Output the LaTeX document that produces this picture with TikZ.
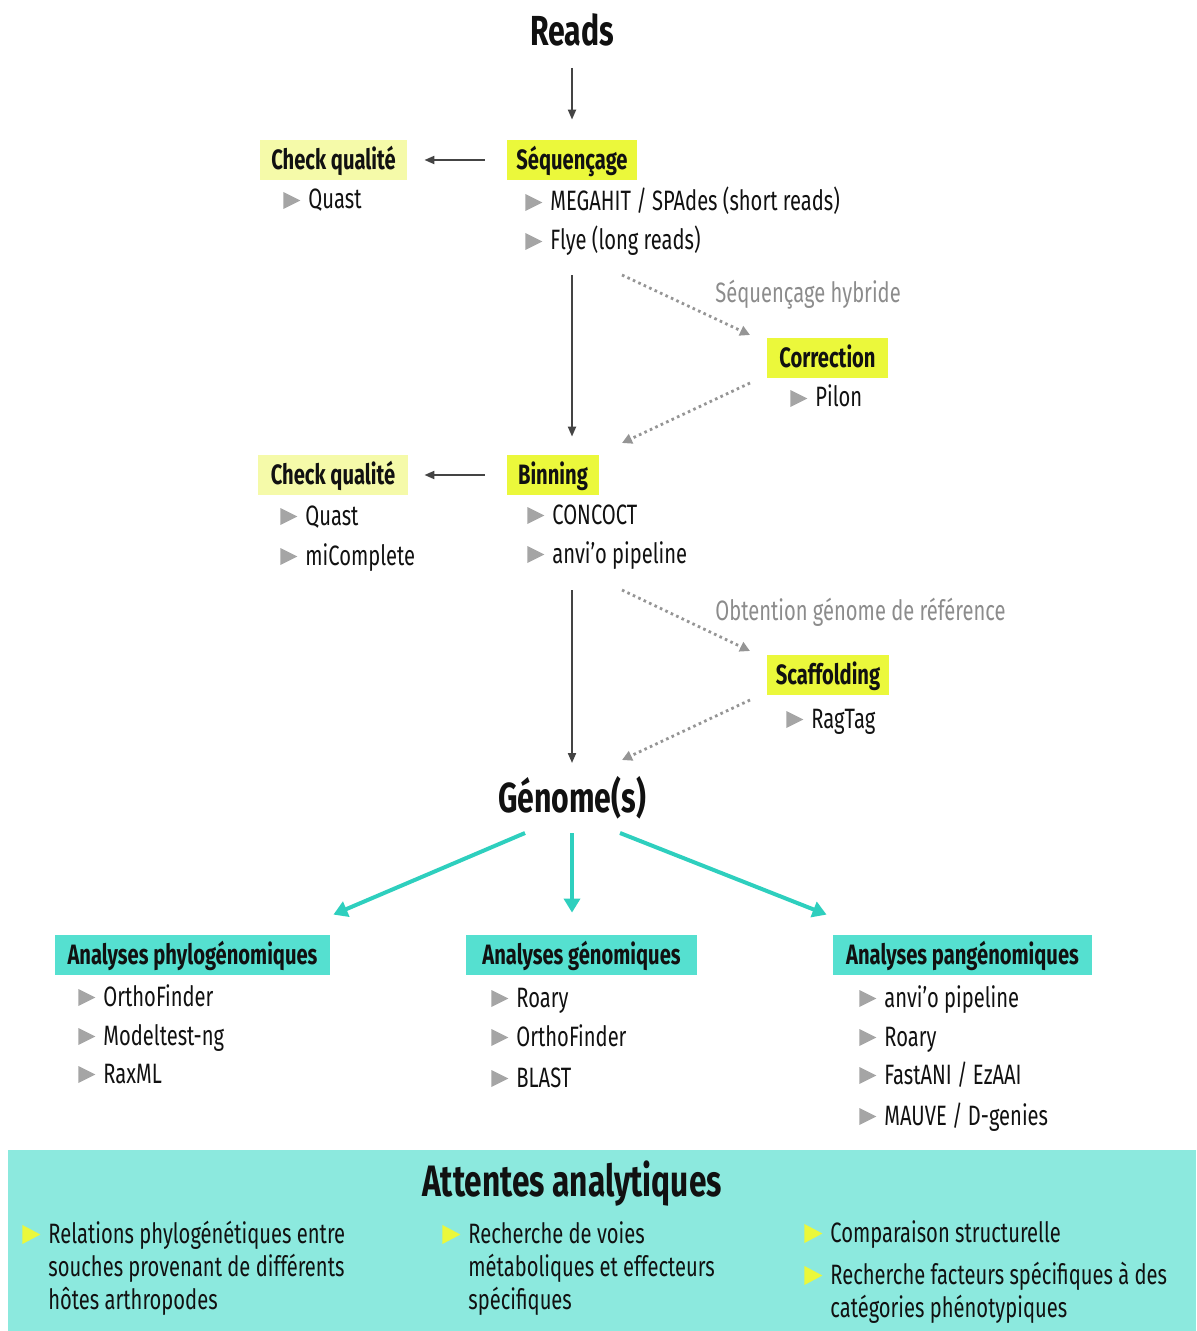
\documentclass[tikz,border=0pt]{standalone}
\usepackage{fontspec}
\setmainfont{Fira Sans}[FakeStretch=0.72]
\usetikzlibrary{arrows.meta, positioning}
\definecolor{YelBright}{HTML}{EBF83B}
\definecolor{YelPale}{HTML}{F5FAA9}
\definecolor{TealArr}{HTML}{2ECFBE}
\definecolor{TealBox}{HTML}{55E0D0}
\definecolor{TealPanel}{HTML}{8CE9DE}
\definecolor{TriGray}{HTML}{A5A5A5}
\definecolor{ArrGray}{HTML}{444444}
\definecolor{DotGray}{HTML}{959595}
\definecolor{LabelGray}{HTML}{8C8C8C}
\definecolor{Ink}{HTML}{111111}

% small bullet triangles
\newcommand\tri{\llap{\tikz[baseline=0pt]\fill[TriGray] (0,0) -- (0,8.5pt) -- (8.5pt,4.25pt) -- cycle;\hspace{4pt}}}
\newcommand\ytri{\llap{\tikz[baseline=0pt]\fill[YelBright] (0,-0.5pt) -- (0,9pt) -- (9pt,4.25pt) -- cycle;\hspace{4pt}}}

\begin{document}
\begin{tikzpicture}[
    x=0.5pt, y=0.5pt,
    every node/.style={font=\fontsize{14}{16.5}\selectfont, text=Ink, inner sep=0pt},
    heading/.style={font=\fontsize{21}{24}\selectfont\bfseries},
    stage/.style={fill=YelBright, font=\fontsize{14}{16}\selectfont\bfseries,
        minimum height=20pt, text height=12pt, text depth=2.5pt},
    check/.style={stage, fill=YelPale},
    ana/.style={stage, fill=TealBox},
    tool/.style={anchor=base west},
    hint/.style={anchor=base west, text=LabelGray},
    expect/.style={anchor=base west, align=left},
    garr/.style={-{Triangle[length=5pt, width=4pt]}, line width=1pt, ArrGray},
    darr/.style={-{Triangle[length=5pt, width=5pt]}, line width=1.4pt, DotGray,
        dash pattern=on 1.3pt off 1.7pt},
    tarr/.style={-{Triangle[length=7pt, width=8pt]}, line width=2pt, TealArr},
]
\useasboundingbox (0,0) rectangle (1196,-1331);

% === Reads -> assembly ===
\node[heading] (reads) at (572,-30) {Reads};

\node[stage, minimum width=65pt] (seq) at (572,-160) {Séquençage};
\node[check, minimum width=73.5pt] (chk1) at (333.5,-160) {Check qualité};
\draw[garr, shorten <=11pt, shorten >=8.5pt] (seq.west) -- (chk1.east);
\draw[garr] ([yshift=-19pt]reads.center) -- ([yshift=10pt]seq.north);

\node[tool] (quast1) at (308,-209) {\tri Quast};
\node[tool] (megahit) at (550,-211) {\tri MEGAHIT / SPAdes (short reads)};
\node[tool] (flye) at (550,-250) {\tri Flye (long reads)};

% hybrid branch
\node[hint] (hyb) at (715,-303) {Séquençage hybride};
\node[stage, minimum width=60.5pt] (corr) at (827.5,-358) {Correction};
\node[tool] (pilon) at (815,-407) {\tri Pilon};
\coordinate (hybin) at (622,-275);
\coordinate (hybto) at (750,-335);
\coordinate (hybback) at (750,-383);
\coordinate (hybout) at (622,-443);
\draw[darr] (hybin) -- (hybto);
\draw[darr] (hybback) -- (hybout);

% === Binning ===
\node[stage, minimum width=46pt] (bin) at (553,-475) {Binning};
\node[check, minimum width=75pt] (chk2) at (333,-475) {Check qualité};
\draw[garr, shorten <=11pt, shorten >=8pt] (bin.west) -- (chk2.east);
\draw[garr] ([yshift=-47.5pt]seq.south) -- ([yshift=9pt]seq.south |- bin.north);

\node[tool] (quast2) at (305,-525) {\tri Quast};
\node[tool] (micomp) at (305,-565) {\tri miComplete};
\node[tool] (concoct) at (552,-524) {\tri CONCOCT};
\node[tool] (anvio1) at (552,-563) {\tri anvi’o pipeline};

% reference branch
\node[hint] (refg) at (715,-620) {Obtention génome de référence};
\node[stage, minimum width=61pt] (scaf) at (828,-675) {Scaffolding};
\node[tool] (ragtag) at (811,-728) {\tri RagTag};
\coordinate (refin) at (622,-590);
\coordinate (refto) at (750,-651);
\coordinate (refback) at (750,-700);
\coordinate (refout) at (622,-760);
\draw[darr] (refin) -- (refto);
\draw[darr] (refback) -- (refout);

% === Genomes ===
\node[heading] (genome) at (572,-798) {Génome(s)};
\draw[garr] ([yshift=-47.5pt]genome |- bin.south) -- ([yshift=17.5pt]genome.center);

\node[ana, minimum width=137.5pt] (phylo) at (192.5,-955) {Analyses phylogénomiques};
\node[ana, minimum width=115.5pt] (geno) at (581.5,-955) {Analyses génomiques};
\node[ana, minimum width=129.5pt] (pan) at (962.5,-955) {Analyses pangénomiques};

\draw[tarr] ([shift={(-23.5pt,-17.5pt)}]genome.center) -- ([shift={(1.5pt,10pt)}]phylo.north east);
\draw[tarr] ([yshift=-17.5pt]genome.center) -- ([yshift=11pt]genome |- geno.north);
\draw[tarr] ([shift={(24pt,-17.5pt)}]genome.center) -- ([shift={(-3pt,10pt)}]pan.north west);

\node[tool] (ortho1) at (103,-1006) {\tri OrthoFinder};
\node[tool] (model) at (103,-1045) {\tri Modeltest-ng};
\node[tool] (raxml) at (103,-1083) {\tri RaxML};

\node[tool] (roary1) at (516,-1007) {\tri Roary};
\node[tool] (ortho2) at (516,-1046) {\tri OrthoFinder};
\node[tool] (blast) at (516,-1087) {\tri BLAST};

\node[tool] (anvio2) at (884,-1007) {\tri anvi’o pipeline};
\node[tool] (roary2) at (884,-1046) {\tri Roary};
\node[tool] (fastani) at (884,-1084) {\tri FastANI / EzAAI};
\node[tool] (mauve) at (884,-1125) {\tri MAUVE / D-genies};

% === Expectations panel ===
\fill[TealPanel] (8,-1150) rectangle (1196,-1331);
\node[heading, font=\fontsize{22}{25}\selectfont\bfseries] (attentes) at (572,-1184) {Attentes analytiques};

% multi-line nodes: base = last line
\node[expect] (exphylo) at (48,-1309)
    {\ytri Relations phylogénétiques entre\\souches provenant de différents\\hôtes arthropodes};
\node[expect] (exgeno) at (468,-1309)
    {\ytri Recherche de voies\\métaboliques et effecteurs\\spécifiques};
\node[expect] (expan1) at (830,-1242) {\ytri Comparaison structurelle};
\node[expect] (expan2) at (830,-1317)
    {\ytri Recherche facteurs spécifiques à des\\catégories phénotypiques};

\end{tikzpicture}
\end{document}
